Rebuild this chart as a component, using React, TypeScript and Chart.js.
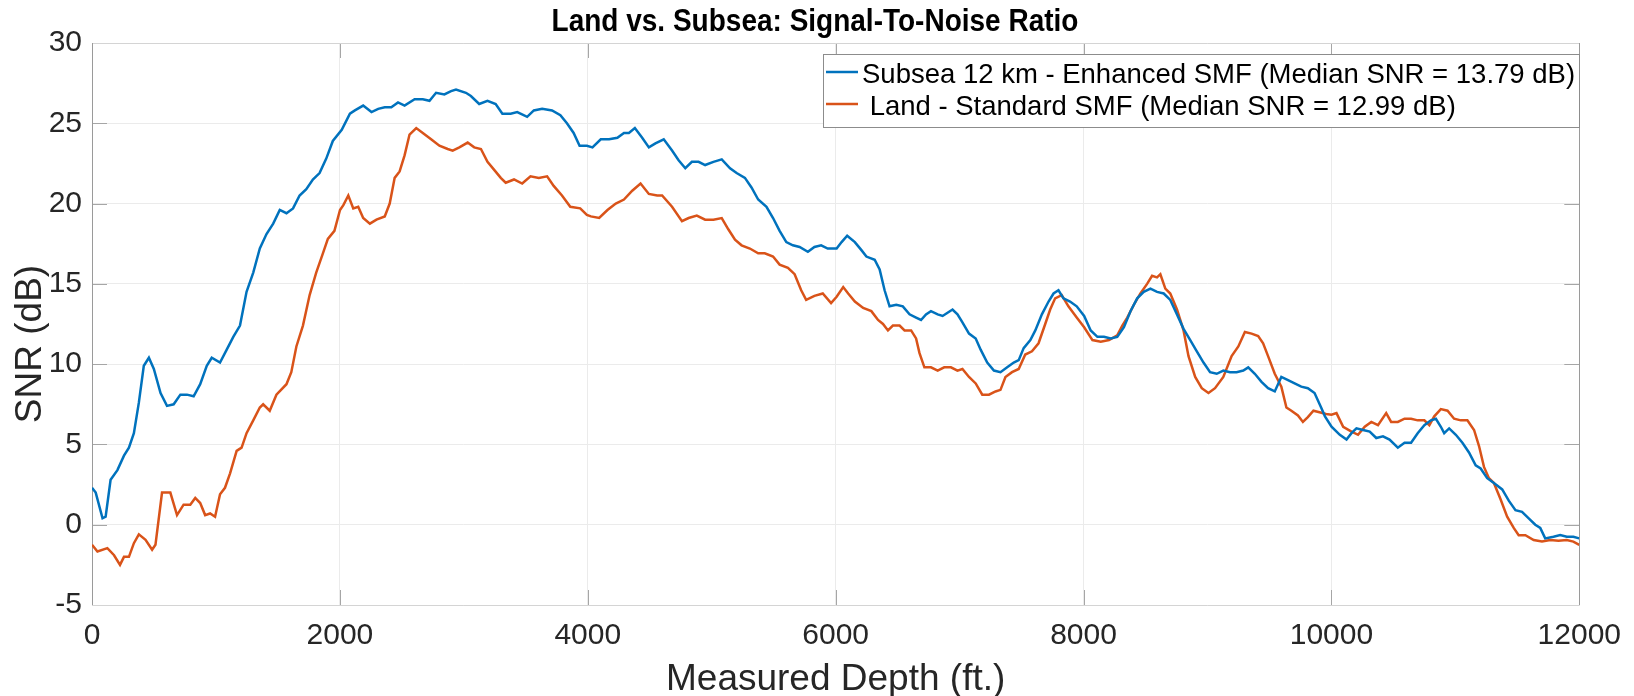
import React, { useEffect, useRef } from "react";
import { Chart, registerables } from "chart.js";

Chart.register(...registerables);

// ---- data -------------------------------------------------------------
const TITLE = "Land vs. Subsea: Signal-To-Noise Ratio";
const X_LABEL = "Measured Depth (ft.)";
const Y_LABEL = "SNR (dB)";

const SUBSEA_LABEL = "Subsea 12 km - Enhanced SMF (Median SNR = 13.79 dB)";
const LAND_LABEL = " Land - Standard SMF (Median SNR = 12.99 dB)";

const X_TICKS = [0, 2000, 4000, 6000, 8000, 10000, 12000];
const Y_TICKS = [-5, 0, 5, 10, 15, 20, 25, 30];

const subseaDepth = [
  0, 30, 85, 110, 150, 205, 258, 298, 338, 378, 418, 459, 499, 553, 605, 659, 713, 766, 820, 873,
  926, 966, 1033, 1087, 1140, 1194, 1247, 1301, 1354, 1408, 1462, 1515, 1569, 1622, 1675, 1729, 1782, 1836, 1890, 1943,
  2015, 2081, 2121, 2188, 2255, 2309, 2362, 2415, 2469, 2522, 2603, 2669, 2723, 2776, 2843, 2897, 2937, 3017, 3057, 3124,
  3191, 3257, 3311, 3378, 3431, 3511, 3565, 3632, 3712, 3779, 3832, 3886, 3934, 3993,
  4038, 4105, 4172, 4239, 4292, 4332, 4380, 4439, 4493, 4546, 4613, 4680, 4733, 4787, 4840, 4894, 4947, 5014, 5081, 5148,
  5201, 5268, 5321, 5375, 5442, 5495, 5548, 5602, 5655, 5709, 5776, 5829, 5883, 5936,
  6008, 6048, 6093, 6155, 6208, 6248, 6315, 6355, 6395, 6435, 6489, 6542, 6596, 6649, 6689, 6729, 6769, 6823, 6863, 6903,
  6943, 6983, 7023, 7076, 7130, 7170, 7223, 7277, 7330, 7384, 7437, 7477, 7517, 7571, 7611, 7664, 7718, 7758, 7798, 7838,
  7891, 7945,
  8005, 8058, 8112, 8165, 8219, 8272, 8326, 8379, 8433, 8486, 8540, 8593, 8647, 8700, 8754, 8807, 8861, 8914, 8968, 9021,
  9075, 9128, 9182, 9235, 9289, 9329, 9382, 9436, 9489, 9543, 9596, 9650, 9703, 9757, 9810, 9864, 9917, 9948,
  10001, 10068, 10122, 10162, 10202, 10255, 10309, 10362, 10416, 10469, 10536, 10590, 10643, 10696, 10750, 10803, 10843,
  10883, 10910, 10950, 11004, 11057, 11110, 11164, 11204, 11257, 11311, 11378, 11431, 11485, 11538, 11592, 11645, 11685,
  11725, 11792, 11846, 11899, 11952, 12000,
];
const subseaSnr = [
  2.3, 2.0, 0.4, 0.5, 2.8, 3.4, 4.3, 4.8, 5.7, 7.6, 9.9, 10.4, 9.7, 8.2, 7.4, 7.5, 8.1, 8.1, 8.0, 8.75,
  9.9, 10.4, 10.1, 10.9, 11.7, 12.4, 14.5, 15.7, 17.2, 18.1, 18.75, 19.6, 19.4, 19.7, 20.5, 20.9, 21.5, 21.9, 22.8, 23.9,
  24.6, 25.6, 25.8, 26.1, 25.7, 25.9, 26.0, 26.0, 26.3, 26.1, 26.5, 26.5, 26.4, 26.9, 26.8, 27.0, 27.1, 26.9, 26.7, 26.2,
  26.4, 26.2, 25.6, 25.6, 25.7, 25.4, 25.8, 25.9, 25.8, 25.5, 25.0, 24.4, 23.6, 23.6,
  23.5, 24.0, 24.0, 24.1, 24.4, 24.4, 24.7, 24.1, 23.5, 23.75, 24.0, 23.3, 22.7, 22.2, 22.6, 22.6, 22.4, 22.6, 22.75, 22.2,
  21.9, 21.6, 21.0, 20.25, 19.8, 19.1, 18.3, 17.6, 17.4, 17.3, 17.0, 17.3, 17.4, 17.2,
  17.2, 17.6, 18.0, 17.6, 17.1, 16.7, 16.5, 15.9, 14.6, 13.6, 13.7, 13.6, 13.1, 12.9, 12.75, 13.1, 13.3, 13.1, 13.0, 13.2,
  13.4, 13.1, 12.6, 11.9, 11.6, 10.9, 10.1, 9.6, 9.5, 9.8, 10.1, 10.25, 11.0, 11.5, 12.1, 13.1, 13.9, 14.4, 14.6, 14.1,
  13.9, 13.6,
  13.0, 12.1, 11.7, 11.7, 11.6, 11.7, 12.3, 13.3, 14.1, 14.5, 14.7, 14.5, 14.4, 14.0, 13.1, 12.2, 11.5, 10.8, 10.1, 9.5,
  9.4, 9.6, 9.5, 9.5, 9.6, 9.8, 9.4, 8.9, 8.5, 8.3, 9.2, 9.0, 8.8, 8.6, 8.5, 8.2, 7.3, 6.75,
  6.1, 5.6, 5.3, 5.7, 6.0, 5.9, 5.8, 5.4, 5.5, 5.3, 4.8, 5.1, 5.1, 5.7, 6.2, 6.5, 6.6,
  6.1, 5.7, 6.0, 5.6, 5.1, 4.5, 3.7, 3.5, 2.9, 2.6, 2.2, 1.5, 0.9, 0.8, 0.4, 0.0, -0.2,
  -0.85, -0.75, -0.65, -0.75, -0.75, -0.85,
];

const landDepth = [
  0, 44, 124, 178, 226, 258, 298, 338, 378, 432, 485, 512, 565, 632, 686, 739, 793, 833, 873, 913,
  953, 993, 1033, 1073, 1114, 1167, 1207, 1247, 1301, 1354, 1381, 1434, 1488, 1569, 1608, 1649, 1702, 1756, 1809, 1863,
  1903, 1956,
  2001, 2028, 2068, 2108, 2148, 2188, 2242, 2295, 2362, 2402, 2442, 2482, 2522, 2562, 2616, 2669, 2736, 2803, 2870, 2910,
  2964, 3031, 3084, 3138, 3191, 3245, 3298, 3338, 3405, 3471, 3538, 3605, 3672, 3725, 3792, 3859, 3939, 3993,
  4025, 4092, 4159, 4226, 4292, 4359, 4426, 4493, 4560, 4600, 4680, 4760, 4814, 4880, 4947, 5014, 5081, 5134, 5188, 5241,
  5308, 5375, 5428, 5495, 5548, 5615, 5669, 5722, 5762, 5829, 5896, 5963,
  6008, 6061, 6101, 6155, 6222, 6288, 6342, 6382, 6422, 6462, 6516, 6556, 6609, 6649, 6676, 6716, 6769, 6823, 6876, 6930,
  6983, 7023, 7076, 7130, 7183, 7237, 7290, 7330, 7370, 7423, 7477, 7530, 7584, 7637, 7691, 7731, 7771, 7824, 7878, 7945,
  8005, 8072, 8139, 8206, 8272, 8313, 8353, 8406, 8459, 8513, 8553, 8593, 8620, 8660, 8700, 8754, 8807, 8847, 8901, 8954,
  9008, 9061, 9128, 9195, 9249, 9302, 9356, 9409, 9449, 9489, 9543, 9596, 9637, 9677, 9730, 9770, 9810, 9855, 9904, 9957,
  10001, 10041, 10095, 10162, 10215, 10269, 10322, 10376, 10442, 10482, 10536, 10590, 10643, 10696, 10750, 10790, 10830,
  10883, 10937, 10990, 11044, 11097, 11151, 11191, 11231, 11271, 11311, 11364, 11418, 11471, 11511, 11565, 11632, 11699,
  11766, 11832, 11899, 11952, 12000,
];
const landSnr = [
  -1.25, -1.67, -1.46, -1.9, -2.5, -2.0, -2.0, -1.15, -0.6, -0.94, -1.56, -1.25, 2.0, 2.0, 0.6, 1.25, 1.25, 1.67, 1.35, 0.6,
  0.7, 0.5, 1.9, 2.3, 3.2, 4.6, 4.8, 5.7, 6.5, 7.3, 7.5, 7.1, 8.1, 8.75, 9.5, 11.1, 12.4, 14.3, 15.7, 16.9,
  17.8, 18.3,
  19.6, 19.9, 20.5, 19.7, 19.8, 19.1, 18.75, 19.0, 19.2, 20.0, 21.6, 22.0, 23.0, 24.3, 24.7, 24.4, 24.0, 23.6, 23.4, 23.3,
  23.5, 23.8, 23.5, 23.4, 22.6, 22.1, 21.6, 21.3, 21.5, 21.25, 21.7, 21.6, 21.7, 21.1, 20.5, 19.8, 19.7, 19.3,
  19.2, 19.1, 19.6, 20.0, 20.25, 20.8, 21.25, 20.6, 20.5, 20.5, 19.8, 18.9, 19.1, 19.25, 19.0, 19.0, 19.1, 18.4, 17.75, 17.4,
  17.2, 16.9, 16.9, 16.7, 16.2, 16.0, 15.6, 14.6, 14.0, 14.25, 14.4, 13.8,
  14.2, 14.8, 14.4, 13.9, 13.5, 13.3, 12.75, 12.5, 12.1, 12.4, 12.4, 12.1, 12.1, 11.6, 10.7, 9.8, 9.8, 9.6, 9.8, 9.8,
  9.6, 9.7, 9.2, 8.8, 8.1, 8.1, 8.3, 8.4, 9.2, 9.5, 9.7, 10.6, 10.8, 11.3, 12.5, 13.4, 14.1, 14.3, 13.6, 12.9,
  12.3, 11.5, 11.4, 11.5, 11.8, 12.4, 12.9, 13.7, 14.4, 15.0, 15.5, 15.4, 15.6, 14.7, 14.4, 13.4, 12.1, 10.5, 9.2, 8.5,
  8.2, 8.5, 9.2, 10.5, 11.1, 12.0, 11.9, 11.75, 11.3, 10.5, 9.4, 8.6, 7.3, 7.1, 6.8, 6.4, 6.7, 7.1, 7.0, 6.9,
  6.85, 6.95, 6.1, 5.8, 5.6, 6.1, 6.4, 6.2, 6.95, 6.4, 6.4, 6.6, 6.6, 6.5, 6.5, 6.2, 6.75,
  7.2, 7.1, 6.6, 6.5, 6.5, 5.9, 4.9, 3.6, 2.9, 2.6, 1.6, 0.5, -0.2, -0.65, -0.65, -0.95, -1.05,
  -0.95, -1.0, -0.95, -1.05, -1.25,
];

// ---- styling ----------------------------------------------------------
const WIDTH = 1634;
const HEIGHT = 696;
const FONT = '"Liberation Sans", Arial, Helvetica, sans-serif';
const BLUE = "#0072BD";
const ORANGE = "#D95319";
const TEXT = "#262626";

const toPoints = (xs: number[], ys: number[]) => xs.map((x, i) => ({ x, y: ys[i] }));

// MATLAB-like axes box with inward ticks, titles and an inset legend
const axesDecor = {
  id: "axesDecor",
  beforeDatasetsDraw(chart: any) {
    const { ctx, chartArea: a, scales } = chart;
    const tickLen = 15;
    ctx.save();
    ctx.lineWidth = 1;
    // inward tick marks
    ctx.strokeStyle = "#a6a6a6";
    ctx.beginPath();
    X_TICKS.forEach((v) => {
      const x = Math.round(scales.x.getPixelForValue(v)) + 0.5;
      ctx.moveTo(x, a.bottom);
      ctx.lineTo(x, a.bottom - tickLen);
      ctx.moveTo(x, a.top);
      ctx.lineTo(x, a.top + tickLen);
    });
    Y_TICKS.forEach((v) => {
      const y = Math.round(scales.y.getPixelForValue(v)) + 0.5;
      ctx.moveTo(a.left, y);
      ctx.lineTo(a.left + tickLen, y);
      ctx.moveTo(a.right, y);
      ctx.lineTo(a.right - tickLen, y);
    });
    ctx.stroke();
    // box
    ctx.strokeStyle = "#d4d4d4";
    ctx.beginPath();
    ctx.moveTo(a.left, a.top + 0.5);
    ctx.lineTo(a.right, a.top + 0.5);
    ctx.moveTo(a.left, a.bottom + 0.5);
    ctx.lineTo(a.right, a.bottom + 0.5);
    ctx.stroke();
    ctx.strokeStyle = "#9a9a9a";
    ctx.beginPath();
    ctx.moveTo(Math.round(a.left) + 0.5, a.top);
    ctx.lineTo(Math.round(a.left) + 0.5, a.bottom);
    ctx.moveTo(Math.round(a.right) + 0.5, a.top);
    ctx.lineTo(Math.round(a.right) + 0.5, a.bottom);
    ctx.stroke();
    ctx.restore();
  },
  afterDraw(chart: any) {
    const { ctx, chartArea: a } = chart;
    ctx.save();
    ctx.fillStyle = "#000";
    // title (slightly tall letterforms)
    ctx.font = `bold 28px ${FONT}`;
    ctx.textAlign = "center";
    ctx.textBaseline = "middle";
    ctx.save();
    ctx.translate(815, 22);
    ctx.scale(1, 1.12);
    ctx.fillText(TITLE, 0, 0);
    ctx.restore();
    // axis titles
    ctx.fillStyle = TEXT;
    ctx.font = `37px ${FONT}`;
    ctx.fillText(X_LABEL, (a.left + a.right) / 2, 680);
    ctx.save();
    ctx.translate(31, 344);
    ctx.rotate(-Math.PI / 2);
    ctx.fillText(Y_LABEL, 0, 0);
    ctx.restore();

    // legend
    const box = { x: 823, y: 54, w: 756, h: 73 };
    ctx.fillStyle = "#fff";
    ctx.fillRect(box.x, box.y, box.w, box.h);
    ctx.strokeStyle = "#8c8c8c";
    ctx.lineWidth = 1;
    ctx.strokeRect(box.x + 0.5, box.y + 0.5, box.w, box.h);
    const rows = [
      { label: SUBSEA_LABEL, color: BLUE, y: 75 },
      { label: LAND_LABEL, color: ORANGE, y: 107 },
    ];
    ctx.font = `27.5px ${FONT}`;
    ctx.textAlign = "left";
    ctx.textBaseline = "middle";
    rows.forEach((r) => {
      ctx.strokeStyle = r.color;
      ctx.lineWidth = 2.5;
      ctx.beginPath();
      ctx.moveTo(826, r.y - 3);
      ctx.lineTo(858, r.y - 3);
      ctx.stroke();
      ctx.fillStyle = "#000";
      ctx.fillText(r.label, 862, r.y);
    });
    ctx.restore();
  },
};

export default function App() {
  const canvasRef = useRef<HTMLCanvasElement | null>(null);

  useEffect(() => {
    const canvas = canvasRef.current;
    if (!canvas) return;
    const chart = new Chart(canvas, {
      type: "line",
      data: {
        datasets: [
          {
            label: SUBSEA_LABEL,
            data: toPoints(subseaDepth, subseaSnr),
            borderColor: BLUE,
            backgroundColor: BLUE,
            borderWidth: 2.5,
            pointRadius: 0,
            tension: 0,
          },
          {
            label: LAND_LABEL,
            data: toPoints(landDepth, landSnr),
            borderColor: ORANGE,
            backgroundColor: ORANGE,
            borderWidth: 2.5,
            pointRadius: 0,
            tension: 0,
          },
        ],
      },
      options: {
        responsive: false,
        animation: false,
        layout: { padding: { left: 0, top: 43, right: 45, bottom: 0 } },
        plugins: {
          legend: { display: false },
          title: { display: false },
          tooltip: { enabled: false },
        },
        scales: {
          x: {
            type: "linear",
            min: 0,
            max: 12000,
            afterBuildTicks: (s: any) => {
              s.ticks = X_TICKS.map((v) => ({ value: v }));
            },
            afterFit: (s: any) => {
              s.height = 91;
            },
            ticks: {
              font: { family: FONT, size: 30 },
              color: TEXT,
              padding: 13,
              maxRotation: 0,
              autoSkip: false,
              callback: (v: any) => String(v),
            },
            grid: { color: "#ebebeb", drawTicks: false },
            border: { display: false },
          },
          y: {
            type: "linear",
            min: -5,
            max: 30,
            afterBuildTicks: (s: any) => {
              s.ticks = Y_TICKS.map((v) => ({ value: v }));
            },
            afterFit: (s: any) => {
              s.width = 92;
            },
            ticks: {
              font: { family: FONT, size: 30 },
              color: TEXT,
              padding: 10,
              callback: (v: any) => String(v),
            },
            grid: { color: "#ebebeb", drawTicks: false },
            border: { display: false },
          },
        },
      },
      plugins: [axesDecor],
    });
    return () => chart.destroy();
  }, []);

  return (
    <div
      style={{
        position: "fixed",
        left: 0,
        top: 0,
        width: WIDTH,
        height: HEIGHT,
        background: "#fff",
      }}
    >
      <canvas ref={canvasRef} width={WIDTH} height={HEIGHT} style={{ width: WIDTH, height: HEIGHT }} />
    </div>
  );
}
